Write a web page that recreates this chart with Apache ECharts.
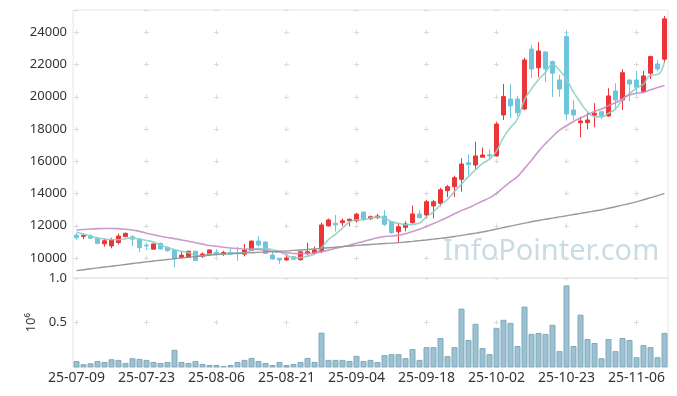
<!DOCTYPE html>
<html lang="ko">
<head>
<meta charset="UTF-8">
<title>chart</title>
<script src="https://cdn.jsdelivr.net/npm/echarts@6.0.0/dist/echarts.min.js"></script>
<style>html,body{margin:0;padding:0;background:#fff}</style>
</head>
<body>
<div id="main" style="width:677px;height:396px"></div>
<script>
// trading days
var dates = [
  '25-07-09','25-07-10','25-07-11','25-07-14','25-07-15','25-07-16','25-07-17','25-07-18','25-07-21','25-07-22',
  '25-07-23','25-07-24','25-07-25','25-07-28','25-07-29','25-07-30','25-07-31','25-08-01','25-08-04','25-08-05',
  '25-08-06','25-08-07','25-08-08','25-08-11','25-08-12','25-08-13','25-08-14','25-08-18','25-08-19','25-08-20',
  '25-08-21','25-08-22','25-08-25','25-08-26','25-08-27','25-08-28','25-08-29','25-09-01','25-09-02','25-09-03',
  '25-09-04','25-09-05','25-09-08','25-09-09','25-09-10','25-09-11','25-09-12','25-09-15','25-09-16','25-09-17',
  '25-09-18','25-09-19','25-09-22','25-09-23','25-09-24','25-09-25','25-09-26','25-09-29','25-09-30','25-10-01',
  '25-10-02','25-10-10','25-10-13','25-10-14','25-10-15','25-10-16','25-10-17','25-10-20','25-10-21','25-10-22',
  '25-10-23','25-10-24','25-10-27','25-10-28','25-10-29','25-10-30','25-10-31','25-11-03','25-11-04','25-11-05',
  '25-11-06','25-11-07','25-11-10','25-11-11','25-11-12'
];
var opens = [
  11420,11340,11380,11220,10880,10750,10960,11320,11320,11180,
  10800,10550,10910,10660,10500,10040,10050,10420,10090,10190,
  10370,10240,10350,10340,10240,10460,11050,10990,10180,9990,
  9880,10080,9890,10280,10300,10400,11990,12150,12190,12310,
  12310,12850,12440,12500,12600,12250,11630,11900,12200,12730,
  12670,13230,13390,14170,14420,14880,15910,15770,16250,16410,
  16330,18870,19860,19860,19240,22960,21800,22780,22180,21040,
  23730,19180,18390,18390,18860,19070,18810,20360,19800,21040,
  21040,20320,21460,22030,22330
];
var closes = [
  11260,11400,11230,10910,11070,11110,11360,11530,11170,10640,
  10750,10870,10560,10450,9990,10180,10420,9840,10250,10500,
  10240,10340,10260,10270,10490,11050,10810,10290,9940,9880,
  10000,9920,10390,10390,10500,12050,12360,12050,12310,12400,
  12720,12400,12560,12600,12090,11570,11940,12110,12730,12500,
  13490,13490,14230,14420,14980,15830,15790,16330,16390,16340,
  18310,20010,19430,19010,22280,21720,22840,21720,21460,20480,
  18930,18870,18500,18560,18980,18810,20050,19800,21490,20790,
  20590,21290,22490,21720,24830
];
var lows = [
  11120,11170,11170,10840,10700,10600,10830,11300,10750,10360,
  10500,10530,10520,10400,9430,9980,10020,9820,10000,10150,
  10150,10130,10200,9830,10100,10440,10700,10270,9900,9630,
  9830,9900,9850,10180,10200,10300,11950,11640,11980,11950,
  12200,12300,12360,12420,11980,11490,10950,11650,12070,12450,
  12450,12460,13200,13770,13780,14120,15150,15460,16250,16100,
  16290,18560,18680,18820,19170,21150,21210,20900,19970,20000,
  18520,18560,17490,17980,18110,18600,18760,19180,19180,19700,
  20220,20220,21100,21580,22140
];
var highs = [
  11530,11530,11450,11240,11200,11250,11520,11580,11420,11220,
  10950,10900,10950,10700,10550,10420,10450,10450,10350,10530,
  10550,10450,10600,10700,10870,11080,11370,11050,10390,10000,
  10250,10100,10420,10950,10700,12200,12450,12670,12450,12460,
  12800,12870,12640,12740,12970,12270,12150,12280,13250,12970,
  13600,13600,14360,14530,15100,16190,16430,17210,16850,16720,
  18450,20790,20790,20050,22420,23210,23380,22800,22240,21350,
  24100,19800,18760,19020,19600,19100,20530,20840,21700,21050,
  21600,21600,22550,22280,25010
];
var ma5 = [
  11620,11480,11360,11250,11174,11144,11136,11196,11248,11162,
  11090,10992,10798,10654,10524,10410,10320,10176,10136,10238,
  10250,10234,10318,10322,10320,10482,10576,10582,10516,10394,
  10184,10006,10026,10116,10240,10650,11138,11470,11854,12234,
  12368,12376,12478,12536,12474,12244,12152,12062,12088,12170,
  12554,12864,13288,13626,14122,14590,15050,15470,15864,16136,
  16632,17476,18096,18620,19808,20490,21056,21514,22004,21644,
  21086,20292,19648,19068,18768,18744,18980,19240,19826,20188,
  20544,20792,21330,21376,22184
];
var ma20 = [
  11740,11770,11800,11820,11830,11830,11820,11780,11740,11650,
  11540,11440,11350,11270,11200,11120,11040,10950,10860,10775,
  10724,10671,10622,10590,10561,10558,10531,10469,10407,10369,
  10332,10284,10276,10273,10298,10392,10489,10599,10702,10797,
  10921,11024,11139,11256,11336,11362,11418,11509,11649,11780,
  11954,12133,12325,12526,12750,12939,13111,13325,13529,13726,
  14005,14386,14729,15050,15559,16067,16612,17092,17529,17928,
  18200,18469,18682,18889,19089,19238,19451,19625,19880,20102,
  20216,20280,20433,20569,20696
];
var maLong = [
  9220,9275,9330,9385,9440,9490,9545,9600,9655,9710,
  9760,9810,9860,9910,9955,10000,10045,10090,10135,10180,
  10220,10245,10265,10285,10310,10330,10350,10375,10395,10420,
  10440,10470,10500,10530,10565,10600,10635,10670,10705,10740,
  10780,10810,10840,10865,10895,10920,10955,10990,11030,11075,
  11120,11170,11220,11270,11330,11400,11470,11540,11610,11700,
  11800,11890,11980,12070,12160,12250,12325,12400,12475,12550,
  12620,12695,12770,12840,12915,12990,13085,13180,13280,13380,
  13480,13610,13740,13870,14010
];
var volumes = [
  71000,34000,45000,71000,60000,90000,83000,49000,102000,94000,
  83000,60000,49000,60000,196000,60000,49000,71000,37000,26000,
  26000,15000,26000,60000,83000,105000,71000,49000,26000,60000,
  26000,37000,60000,105000,60000,388000,83000,83000,83000,71000,
  128000,71000,83000,60000,136000,147000,147000,102000,204000,83000,
  226000,226000,328000,125000,226000,657000,306000,487000,215000,147000,
  442000,532000,498000,238000,680000,374000,385000,374000,476000,181000,
  917000,238000,589000,317000,272000,102000,317000,181000,328000,306000,
  113000,249000,226000,113000,385000
];

var upColor = '#ec3538';
var downColor = '#6ec6dc';
var gridColor = '#dcdcdc';
var font = 'Noto Sans';

var candles = dates.map(function (d, i) {
  return [opens[i], closes[i], lows[i], highs[i]];
});

var chart = echarts.init(document.getElementById('main'));

var option = {
  animation: false,
  backgroundColor: '#fff',
  textStyle: { fontFamily: font },
  grid: [
    { left: 73, right: 9, top: 10, height: 268, show: true, borderColor: '#e6e6e6', borderWidth: 1 },
    { left: 73, right: 9, top: 278, height: 89.3, show: true, borderColor: '#e6e6e6', borderWidth: 1 }
  ],
  xAxis: [
    {
      type: 'category', gridIndex: 0, data: dates, boundaryGap: true,
      axisLine: { show: false }, axisTick: { show: false }, axisLabel: { show: false },
      splitLine: {
        show: true, interval: 9, alignWithLabel: true,
        lineStyle: { color: gridColor, width: 1, type: [5, 27.25], dashOffset: 12.45 }
      }
    },
    {
      type: 'category', gridIndex: 1, data: dates, boundaryGap: true,
      axisLine: { show: false }, axisTick: { show: false },
      axisLabel: { interval: 9, color: '#333', fontSize: 14, fontFamily: font, margin: 4 },
      splitLine: {
        show: true, interval: 9, alignWithLabel: true,
        lineStyle: { color: gridColor, width: 1, type: [5, 39.65], dashOffset: 2.5 }
      }
    }
  ],
  yAxis: [
    {
      type: 'value', gridIndex: 0, min: 8760, max: 25380, splitNumber: 8,
      axisLine: { show: false }, axisTick: { show: false },
      axisLabel: {
        color: '#333', fontSize: 13, fontFamily: font, margin: 6, showMinLabel: false, showMaxLabel: false,
        formatter: function (v) { return String(v); }
      },
      splitLine: { show: true, lineStyle: { color: gridColor, width: 1, type: [5, 65], dashOffset: 69 } }
    },
    {
      type: 'value', gridIndex: 1, min: 0, max: 1000000, interval: 500000,
      name: '10⁶', nameLocation: 'middle', nameRotate: 90, nameGap: 33,
      nameTextStyle: { color: '#333', fontSize: 13, fontFamily: font },
      axisLine: { show: false }, axisTick: { show: false },
      axisLabel: {
        color: '#333', fontSize: 13, fontFamily: font, margin: 6, showMinLabel: false,
        formatter: function (v) { return (v / 1000000).toFixed(1); }
      },
      splitLine: { show: true, lineStyle: { color: gridColor, width: 1, type: [5, 65], dashOffset: 69 } }
    }
  ],
  graphic: [
    {
      type: 'text', left: 443, top: 237, z: 0, silent: true,
      style: { text: 'InfoPointer.com', fill: '#c9dbe4', font: '29px "Noto Sans"' }
    }
  ],
  series: [
    {
      type: 'candlestick', xAxisIndex: 0, yAxisIndex: 0, data: candles, barWidth: 5,
      itemStyle: { color: upColor, color0: downColor, borderColor: upColor, borderColor0: downColor, borderWidth: 1 }
    },
    {
      type: 'line', xAxisIndex: 0, yAxisIndex: 0, data: ma5, smooth: true, symbol: 'none',
      lineStyle: { color: '#8dcfc4', width: 1.6, opacity: 0.9 }
    },
    {
      type: 'line', xAxisIndex: 0, yAxisIndex: 0, data: ma20, smooth: true, symbol: 'none',
      lineStyle: { color: '#c78fc6', width: 1.6, opacity: 0.9 }
    },
    {
      type: 'line', xAxisIndex: 0, yAxisIndex: 0, data: maLong, smooth: true, symbol: 'none',
      lineStyle: { color: '#8e8e8e', width: 1.4, opacity: 0.9 }
    },
    {
      type: 'bar', xAxisIndex: 1, yAxisIndex: 1, data: volumes, barWidth: 6,
      itemStyle: { color: '#9cc1d1', borderColor: '#7fa9bd', borderWidth: 1 }
    }
  ]
};
chart.setOption(option);
</script>
</body>
</html>
